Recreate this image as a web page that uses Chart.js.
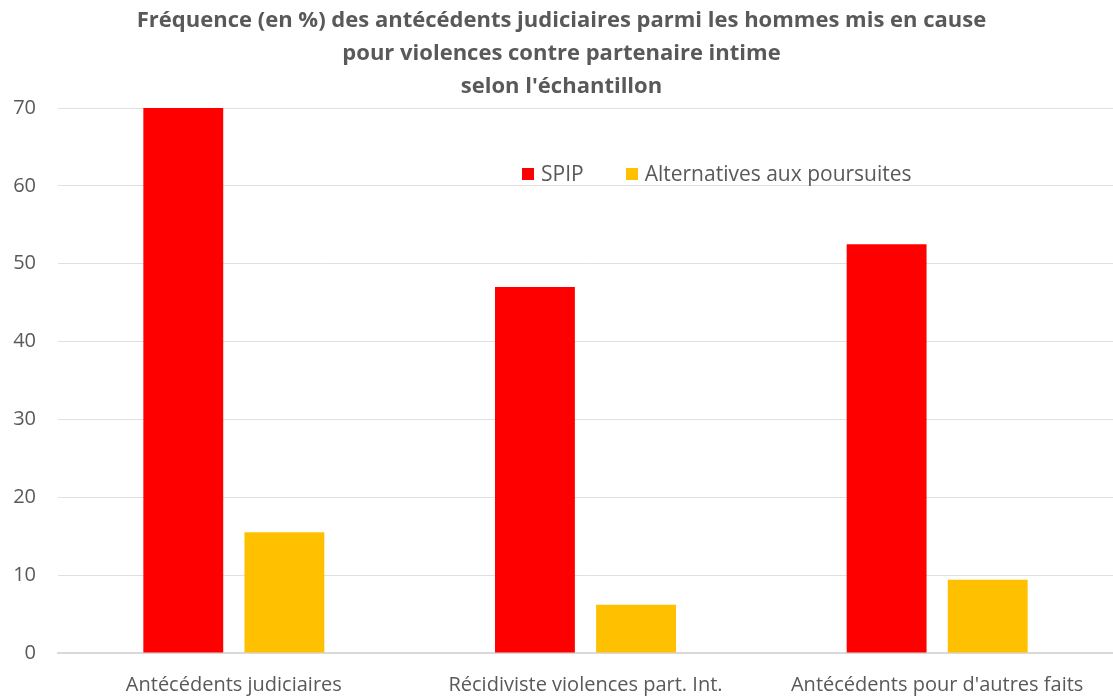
<!DOCTYPE html>
<html>
<head>
<meta charset="utf-8">
<script src="https://cdn.jsdelivr.net/npm/chart.js@4/dist/chart.umd.min.js"></script>
<style>
    body { margin: 0; background: #fff; }
    #wrap { position: relative; width: 1113px; height: 697px; }
    #legend { position: absolute; left: 522px; top: 159px; font: 21px "Open Sans", sans-serif; color: #595959; white-space: nowrap; }
    #legend span.box { display: inline-block; width: 12px; height: 12px; margin-right: 7px; vertical-align: 1px; }
    #legend span.item { margin-right: 42px; }
</style>
</head>
<body>
<div id="wrap">
    <canvas id="chart"></canvas>
    <div id="legend"></div>
</div>
<script>
const categories = ['Antécédents judiciaires', 'Récidiviste violences part. Int.', "Antécédents pour d'autres faits"];
const spip = [70, 47, 52.5];
const alternatives = [15.5, 6.2, 9.4];
const seriesNames = ['SPIP', 'Alternatives aux poursuites'];
const seriesColors = ['#ff0000', '#ffc000'];
const titleLines = ['Fréquence (en %) des antécédents judiciaires parmi les hommes mis en cause', 'pour violences contre partenaire intime', "selon l'échantillon"];

const legend = document.getElementById('legend');
seriesNames.forEach((name, i) => {
    legend.innerHTML += '<span class="item"><span class="box" style="background:' + seriesColors[i] + '"></span>' + name + '</span>';
});

const font = { family: '"Open Sans", sans-serif', size: 20 };

new Chart(document.getElementById('chart'), {
    type: 'bar',
    data: {
        labels: categories,
        datasets: [
            { label: seriesNames[0], data: spip, backgroundColor: seriesColors[0], barPercentage: 0.79, categoryPercentage: 0.575 },
            { label: seriesNames[1], data: alternatives, backgroundColor: seriesColors[1], barPercentage: 0.79, categoryPercentage: 0.575 }
        ]
    },
    options: {
        responsive: true,
        maintainAspectRatio: false,
        animation: false,
        layout: { padding: { left: 10, right: 0, top: 0, bottom: 0 } },
        plugins: {
            legend: { display: false },
            tooltip: { enabled: false },
            title: {
                display: true,
                text: titleLines,
                color: '#595959',
                font: { family: '"Open Sans", sans-serif', size: 22, weight: 'bold', lineHeight: 1.5 },
                padding: { top: 4, bottom: 5 }
            }
        },
        scales: {
            x: {
                grid: { display: false },
                border: { color: '#d9d9d9', width: 2 },
                ticks: { color: '#595959', font: font, padding: 12 },
                afterFit: (scale) => { scale.height -= 12; }
            },
            y: {
                min: 0,
                max: 70,
                ticks: { stepSize: 10, color: '#595959', font: font, padding: 22 },
                grid: { color: '#e0e0e0', drawTicks: false },
                border: { display: false },
                afterFit: (scale) => { scale.width = 48; }
            }
        }
    }
});
</script>
</body>
</html>
